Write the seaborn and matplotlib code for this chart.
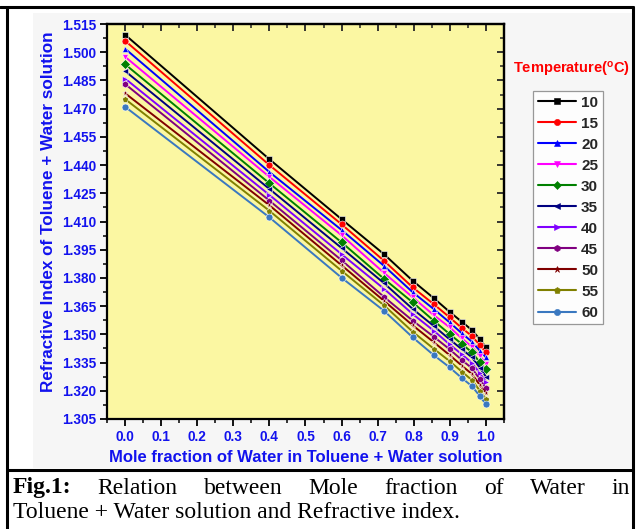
import numpy as np
import pandas as pd
import matplotlib
matplotlib.use("Agg")
import matplotlib.pyplot as plt
import seaborn as sns
from matplotlib.lines import Line2D
from matplotlib.patches import Rectangle
from matplotlib.ticker import MultipleLocator

# ---------------- data ----------------
mole_fraction = [0.0, 0.4, 0.6, 0.717, 0.797, 0.855, 0.899, 0.933, 0.961, 0.983, 1.0]
temperatures = [10, 15, 20, 25, 30, 35, 40, 45, 50, 55, 60]
n_10 = [1.5093, 1.4431, 1.4112, 1.3927, 1.3785, 1.3693, 1.3620, 1.3567, 1.3523, 1.3474, 1.3431]
n_15 = [1.5061, 1.4400, 1.4085, 1.3892, 1.3750, 1.3661, 1.3591, 1.3534, 1.3491, 1.3443, 1.3405]
n_20 = [1.5019, 1.4363, 1.4055, 1.3865, 1.3724, 1.3635, 1.3564, 1.3506, 1.3461, 1.3413, 1.3378]
n_25 = [1.4976, 1.4337, 1.4027, 1.3828, 1.3697, 1.3603, 1.3538, 1.3479, 1.3434, 1.3385, 1.3343]
n_30 = [1.4936, 1.4303, 1.3989, 1.3796, 1.3670, 1.3573, 1.3502, 1.3449, 1.3405, 1.3351, 1.3314]
n_35 = [1.4900, 1.4273, 1.3959, 1.3773, 1.3635, 1.3545, 1.3474, 1.3421, 1.3378, 1.3323, 1.3275]
n_40 = [1.4860, 1.4241, 1.3926, 1.3743, 1.3608, 1.3520, 1.3447, 1.3394, 1.3349, 1.3293, 1.3248]
n_45 = [1.4831, 1.4211, 1.3894, 1.3700, 1.3573, 1.3488, 1.3421, 1.3364, 1.3320, 1.3261, 1.3213]
n_50 = [1.4782, 1.4186, 1.3867, 1.3679, 1.3548, 1.3459, 1.3390, 1.3334, 1.3289, 1.3231, 1.3187]
n_55 = [1.4751, 1.4157, 1.3838, 1.3655, 1.3514, 1.3424, 1.3358, 1.3302, 1.3257, 1.3201, 1.3156]
n_60 = [1.4710, 1.4122, 1.3801, 1.3626, 1.3484, 1.3390, 1.3325, 1.3268, 1.3225, 1.3172, 1.3128]
series = [n_10, n_15, n_20, n_25, n_30, n_35, n_40, n_45, n_50, n_55, n_60]

x_ticks = [0.0, 0.1, 0.2, 0.3, 0.4, 0.5, 0.6, 0.7, 0.8, 0.9, 1.0]
y_ticks = [1.305, 1.320, 1.335, 1.350, 1.365, 1.380, 1.395, 1.410, 1.425, 1.440,
           1.455, 1.470, 1.485, 1.500, 1.515]

colors = ['#000000', '#FF0000', '#0000FF', '#FF00FF', '#008000', '#000080',
          '#8000FF', '#800080', '#800000', '#808000', '#3A78C0']
markers = ['s', 'o', '^', 'v', 'D', '<', '>', 'h', '*', 'p', 'o']

rows = []
for t, vals in zip(temperatures, series):
    for xv, yv in zip(mole_fraction, vals):
        rows.append({'x': xv, 'n': yv, 'T': str(t)})
df = pd.DataFrame(rows)

# ---------------- figure ----------------
sns.set_theme(style="white")
plt.rcParams['font.family'] = ['Liberation Sans', 'DejaVu Sans']
W, H = 639, 529
fig = plt.figure(figsize=(W / 100, H / 100), dpi=100)
fig.patch.set_facecolor('white')

def fx(px):
    return px / W

def fy(py):
    return 1 - py / H

# faint grey chart-cell background
fig.add_artist(Rectangle((fx(33), fy(468)), fx(632) - fx(33), fy(13) - fy(468),
                         transform=fig.transFigure, facecolor='#F6F6F6',
                         edgecolor='none', zorder=0))

ax = fig.add_axes([fx(107), fy(419), fx(504) - fx(107), fy(24) - fy(419)])
ax.set_facecolor('#FBF7A2')

palette = dict(zip([str(t) for t in temperatures], colors))
mk = dict(zip([str(t) for t in temperatures], markers))
sns.lineplot(data=df, x='x', y='n', hue='T', style='T', palette=palette,
             markers=mk, dashes=False, linewidth=1.4, markersize=5,
             markeredgewidth=0.4, ax=ax, legend=False, sort=False)

ax.set_xlim(-0.05, 1.05)
ax.set_ylim(1.305, 1.515)
ax.set_xticks(x_ticks)
ax.set_yticks(y_ticks)
ax.set_xticklabels([f"{v:.1f}" for v in x_ticks])
ax.set_yticklabels([f"{v:.3f}" for v in y_ticks])
ax.xaxis.set_minor_locator(MultipleLocator(0.05))
ax.yaxis.set_minor_locator(MultipleLocator(0.0075))

blue = '#1212EE'
for lab in ax.get_xticklabels() + ax.get_yticklabels():
    lab.set_color(blue)
    lab.set_fontweight('bold')
    lab.set_fontsize(9.8)

ax.tick_params(axis='both', which='major', direction='out', length=5, width=1.3,
               color='black', pad=3, bottom=True, left=True)
ax.tick_params(axis='both', which='minor', direction='out', length=3, width=1.1,
               color='black', bottom=True, left=True)
ax.tick_params(axis='x', which='major', pad=3)

for s in ax.spines.values():
    s.set_color('black')
    s.set_linewidth(1.6)

# inward mirror ticks on top and right
sec_x = ax.secondary_xaxis('top')
sec_x.set_xticks(x_ticks)
sec_x.xaxis.set_minor_locator(MultipleLocator(0.05))
sec_x.tick_params(which='major', direction='in', length=5, width=1.3, labeltop=False)
sec_x.tick_params(which='minor', direction='in', length=3, width=1.1)
sec_x.spines['top'].set_linewidth(1.6)
sec_y = ax.secondary_yaxis('right')
sec_y.set_yticks(y_ticks)
sec_y.yaxis.set_minor_locator(MultipleLocator(0.0075))
sec_y.tick_params(which='major', direction='in', length=5, width=1.3, labelright=False)
sec_y.tick_params(which='minor', direction='in', length=3, width=1.1)
sec_y.spines['right'].set_linewidth(1.6)

ax.set_xlabel('Mole fraction of Water in Toluene + Water solution', color=blue,
              fontweight='bold', fontsize=12, labelpad=4)
ax.set_ylabel('Refractive Index of Toluene + Water solution', color=blue,
              fontweight='bold', fontsize=12.3)
ax.yaxis.set_label_coords(-0.128, 0.524)

# legend
handles = [Line2D([0], [0], color=c, marker=m, markersize=4.5, linewidth=1.5,
                  markeredgewidth=0.4) for c, m in zip(colors, markers)]
leg = fig.legend(handles, [str(t) for t in temperatures], loc='upper left',
                 bbox_to_anchor=(fx(533), fy(91)), frameon=True,
                 prop={'weight': 'bold', 'size': 11}, handlelength=2.5,
                 handletextpad=0.35, labelspacing=0.46, borderpad=0.3,
                 borderaxespad=0, fancybox=False)
leg.get_frame().set_edgecolor('#808080')
leg.get_frame().set_linewidth(0.9)
leg.get_frame().set_facecolor('white')

fig.text(fx(571), fy(69), r'Temperature($\mathregular{^{o}}$C)', color='#FF0000',
         fontweight='bold', fontsize=10.5, ha='center', va='center')

# borders of the table cell
lw = 2.2
fig.add_artist(Line2D([fx(0), fx(633)], [fy(7), fy(7)], color='black', lw=lw))
fig.add_artist(Line2D([fx(7), fx(7)], [fy(7), fy(529)], color='black', lw=lw))
fig.add_artist(Line2D([fx(633), fx(633)], [fy(7), fy(529)], color='black', lw=lw))
fig.add_artist(Line2D([fx(7), fx(633)], [fy(470), fy(470)], color='black', lw=lw))

# caption (justified first line)
serif = ['Liberation Serif', 'DejaVu Serif']
cap_size = 17
words1 = [('Fig.1:', 'bold'), ('Relation', 'normal'), ('between', 'normal'),
          ('Mole', 'normal'), ('fraction', 'normal'), ('of', 'normal'),
          ('Water', 'normal'), ('in', 'normal')]
fig.canvas.draw()
renderer = fig.canvas.get_renderer()
txts = []
widths = []
for w, wt in words1:
    t = fig.text(0, fy(488), w, fontsize=cap_size, fontweight=wt, family=serif,
                 va='center', ha='left', color='black')
    bb = t.get_window_extent(renderer)
    txts.append(t)
    widths.append(bb.width)
x0, x1 = 13, 630
gap = (x1 - x0 - sum(widths)) / (len(widths) - 1)
cur = x0
for t, wd in zip(txts, widths):
    t.set_x(fx(cur))
    cur += wd + gap

fig.text(fx(13), fy(512), 'Toluene + Water solution and Refractive index.',
         fontsize=cap_size, family=serif, va='center', ha='left', color='black')

fig.savefig('out.png', dpi=100)
